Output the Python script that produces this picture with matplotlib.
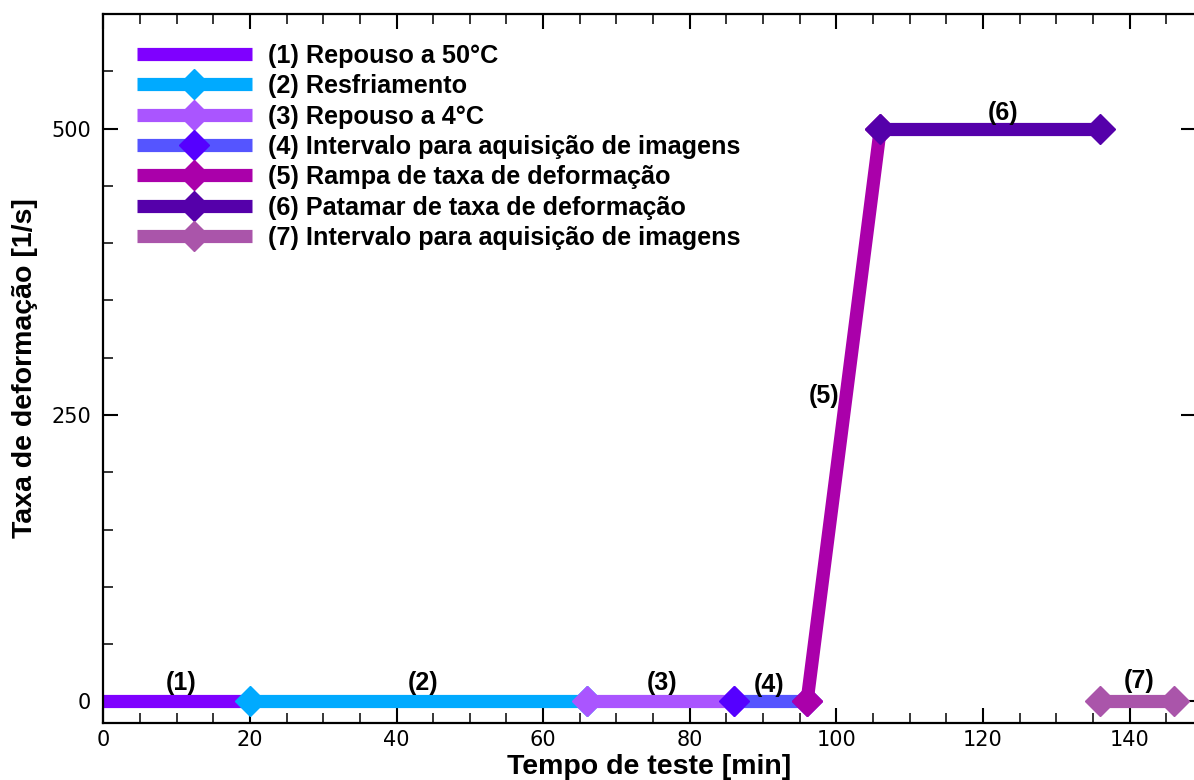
import matplotlib
matplotlib.use('Agg')
import matplotlib.pyplot as plt
from matplotlib.ticker import MultipleLocator

# etapas do ensaio: tempo [min] e taxa de deformação [1/s]
seg_t = [[0, 20], [20, 66], [66, 86], [86, 96], [96, 106], [106, 136], [136, 146]]
seg_y = [[0, 0], [0, 0], [0, 0], [0, 0], [0, 500], [500, 500], [0, 0]]
seg_labels = ['(1) Repouso a 50°C',
              '(2) Resfriamento',
              '(3) Repouso a 4°C',
              '(4) Intervalo para aquisição de imagens',
              '(5) Rampa de taxa de deformação',
              '(6) Patamar de taxa de deformação',
              '(7) Intervalo para aquisição de imagens']
seg_tags = ['(1)', '(2)', '(3)', '(4)', '(5)', '(6)', '(7)']
tag_pos = [(10.6, 16), (43.6, 16), (76.2, 16), (90.8, 14), (98.3, 267), (122.7, 514), (141.3, 18)]

line_colors = ['#7F00FF', '#00AAFF', '#AA55FF', '#5555FF', '#AA00AA', '#5500AA', '#AA55AA']
marker_colors = ['#7F00FF', '#00AAFF', '#AA55FF', '#5500FF', '#AA00AA', '#5500AA', '#AA55AA']
has_marker = [False, True, True, True, True, True, True]

plt.rcParams['xtick.labelsize'] = 15
plt.rcParams['ytick.labelsize'] = 15

fig = plt.figure(figsize=(11.94, 7.80), dpi=100)
ax = fig.add_axes([0.0865, 0.0735, 0.9148, 0.9086])

handles = []
for t, y, lc, mc, mk, lab in zip(seg_t, seg_y, line_colors, marker_colors, has_marker, seg_labels):
    h, = ax.plot(t, y, color=lc, linewidth=9.5, solid_capstyle='butt',
                 marker='D' if mk else None, markersize=15,
                 markerfacecolor=mc, markeredgecolor=mc, label=lab, clip_on=False)
    handles.append(h)

for tag, (tx, ty) in zip(seg_tags, tag_pos):
    ax.text(tx, ty, tag, ha='center', va='center', fontsize=18, fontweight='bold',
            family='Liberation Sans')

ax.set_xlim(0, 149)
ax.set_ylim(-18.5, 600)
ax.xaxis.set_major_locator(MultipleLocator(20))
ax.xaxis.set_minor_locator(MultipleLocator(5))
ax.yaxis.set_major_locator(MultipleLocator(250))
ax.yaxis.set_minor_locator(MultipleLocator(50))

ax.tick_params(which='both', direction='in', top=True, right=True)
ax.tick_params(which='major', length=11, width=1.5)
ax.tick_params(which='minor', length=7, width=1.1)
ax.tick_params(which='minor', right=False)
ax.tick_params(axis='x', which='major', pad=5)
ax.tick_params(axis='y', which='major', pad=9)
for sp in ax.spines.values():
    sp.set_linewidth(1.6)

ax.set_xlabel('Tempo de teste [min]', fontsize=20.5, fontweight='bold',
              family='Liberation Sans', labelpad=3)
ax.set_ylabel('Taxa de deformação [1/s]', fontsize=20.5, fontweight='bold',
              family='Liberation Sans', labelpad=9.5)

leg = ax.legend(handles=handles, loc='upper left', bbox_to_anchor=(0.0214, 0.972),
                frameon=False, numpoints=1, handlelength=4.55, handletextpad=0.63,
                labelspacing=0.25, borderaxespad=0,
                prop={'family': 'Liberation Sans', 'weight': 'bold', 'size': 18.2})

fig.savefig('out.png', dpi=100)
